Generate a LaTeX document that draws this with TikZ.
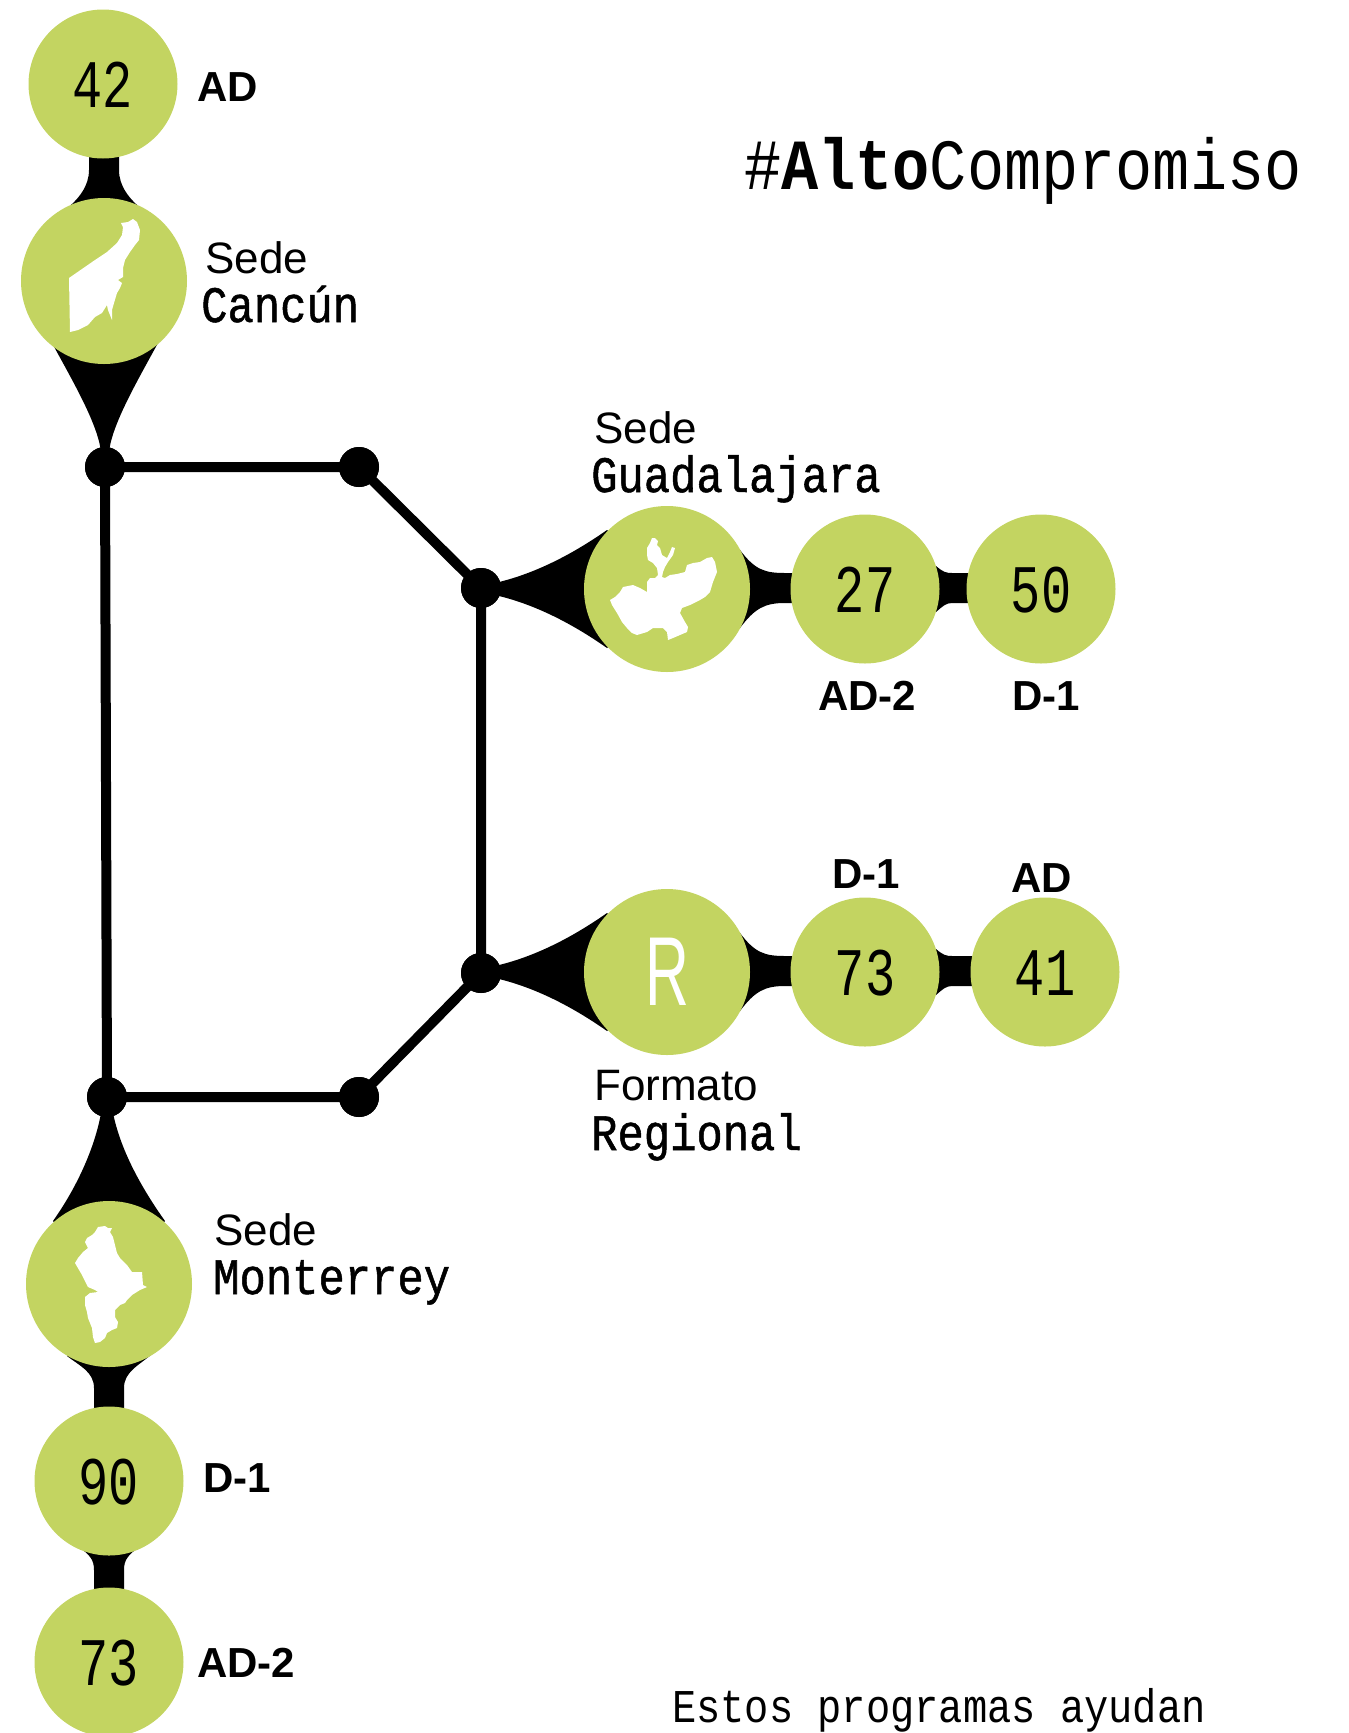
\documentclass[tikz,border=0pt]{standalone}
\usepackage{fontspec}
\setmainfont{Liberation Sans}
\newfontfamily\monof{Liberation Mono}[FakeStretch=0.86]
\newfontface\cityf{Liberation Mono}[FakeStretch=0.86,FakeBold=1]
\newfontfamily\numf{Liberation Mono}[FakeStretch=0.74]
\newfontfamily\rfont{Liberation Sans}[FakeStretch=0.62]
\definecolor{lime}{RGB}{195,212,97}
\begin{document}
\begin{tikzpicture}[x=1pt,y=-1pt,
  bubble/.style={circle,fill=lime,draw=none,inner sep=0},
  bigbub/.style={bubble,minimum size=166pt},
  smallbub/.style={bubble,minimum size=149pt},
  junction/.style={circle,fill=black,draw=none,inner sep=0,minimum size=40pt},
  track/.style={line width=10pt},
  blob/.style={fill=black},
  num/.style={font=\numf\fontsize{68}{68}\selectfont,anchor=base,inner sep=0},
  tag/.style={font=\bfseries\fontsize{42}{42}\selectfont,anchor=base west,inner sep=0},
  lighttxt/.style={font=\fontsize{44}{44}\selectfont,anchor=base west,inner sep=0},
  city/.style={font=\cityf\fontsize{51}{51}\selectfont,anchor=base west,inner sep=0},
  mapfill/.style={fill=white,draw=none}
]
\useasboundingbox (0,0) rectangle (1349,1733);

% ---- black blobs (drawn under the circles)
% Cancun -> 42
\fill[blob] (89,150) -- (89,170) .. controls (89,186) and (79,199) .. (65,210) -- (104,281) -- (143,210) .. controls (129,199) and (119,186) .. (119,170) -- (119,150) -- cycle;
% Cancun -> junction
\fill[blob] (52,343) .. controls (75,385) and (98,425) .. (101,452) -- (109,452) .. controls (112,425) and (135,385) .. (158,343) -- (104,281) -- cycle;
% junction -> Monterrey
\fill[blob] (103,1100) .. controls (98,1145) and (75,1190) .. (53,1221) -- (109,1284) -- (165,1221) .. controls (143,1190) and (116,1145) .. (111,1100) -- cycle;
% Monterrey -> 90
\fill[blob] (67,1356) .. controls (80,1366) and (94,1372) .. (94,1388) -- (94,1420) -- (124,1420) -- (124,1388) .. controls (124,1372) and (138,1366) .. (152,1354) -- (109,1284) -- cycle;
% 90 -> 73
\fill[blob] (83,1550) .. controls (90,1556) and (94,1560) .. (94,1570) -- (94,1600) -- (124,1600) -- (124,1570) .. controls (124,1560) and (128,1556) .. (135,1550) -- (109,1481) -- cycle;
% junction -> Guadalajara
\fill[blob] (490,584) .. controls (530,576) and (570,556) .. (607,530) -- (667,589) -- (607,648) .. controls (570,622) and (530,602) .. (490,594) -- cycle;
% Guadalajara -> 27
\fill[blob] (740,550) .. controls (755,570) and (765,573) .. (785,573) -- (800,573) -- (800,603) -- (785,603) .. controls (765,603) and (755,608) .. (740,628) -- (667,589) -- cycle;
% 27 -> 50
\fill[blob] (936,566) .. controls (943,572) and (946,573) .. (952,573) -- (975,573) -- (975,603) -- (952,603) .. controls (946,603) and (943,606) .. (936,612) -- (865,589) -- cycle;
% junction -> R
\fill[blob] (490,967) .. controls (530,959) and (570,939) .. (607,913) -- (667,972) -- (607,1031) .. controls (570,1005) and (530,985) .. (490,977) -- cycle;
% R -> 73
\fill[blob] (740,933) .. controls (755,953) and (765,956) .. (785,956) -- (800,956) -- (800,986) -- (785,986) .. controls (765,986) and (755,991) .. (740,1011) -- (667,972) -- cycle;
% 73 -> 41
\fill[blob] (936,949) .. controls (943,955) and (946,956) .. (952,956) -- (979,956) -- (979,986) -- (952,986) .. controls (946,986) and (943,989) .. (936,995) -- (865,972) -- cycle;

% ---- junctions and track
\node[junction] (j1) at (105,467) {};
\node[junction] (j2) at (359,467) {};
\node[junction] (j3) at (481,588) {};
\node[junction] (j4) at (481,973) {};
\node[junction] (j5) at (359,1097) {};
\node[junction] (j6) at (107,1097) {};
\draw[track] (j1.center) -- (j2.center) -- (j3.center) -- (j4.center) -- (j5.center) -- (j6.center) -- (j1.center);
\node[junction] at (j1) {};
\node[junction] at (j2) {};
\node[junction] at (j3) {};
\node[junction] at (j4) {};
\node[junction] at (j5) {};
\node[junction] at (j6) {};

% ---- circles
\node[smallbub] (c42) at (103,84) {};
\node[bigbub] (can) at (104,281) {};
\node[bigbub] (gua) at (667,589) {};
\node[smallbub] (c27) at (865,589) {};
\node[smallbub] (c50) at (1041,589) {};
\node[bigbub] (reg) at (667,972) {};
\node[smallbub] (c73r) at (865,972) {};
\node[smallbub] (c41) at (1045,972) {};
\node[bigbub] (mon) at (109,1284) {};
\node[smallbub] (c90) at (109,1481) {};
\node[smallbub] (c73) at (109,1662) {};

% ---- maps
% Quintana Roo
\fill[mapfill] (69,278) -- (95,260) -- (107,252) -- (117,243) -- (122,235) -- (123,227) -- (121,223) -- (128,222) -- (133,219) -- (137,222) -- (140,230) -- (139,240) -- (135,245) -- (130,252) -- (125,260) -- (123,268) -- (123,277) -- (118,280) -- (122,283) -- (120,288) -- (117,293) -- (114,303) -- (112,310) -- (112,320) -- (108,310) -- (107,305) -- (102,313) -- (95,317) -- (88,325) -- (78,330) -- (70,332) -- cycle;
% Jalisco
\fill[mapfill] (652,538) -- (655,538) -- (658,541) -- (657,545) -- (660,548) -- (662,555) -- (667,558) -- (670,552) -- (672,547) -- (675,548) -- (673,555) -- (668,562) -- (665,567) -- (663,572) -- (662,577) -- (665,578) -- (670,575) -- (677,574) -- (685,572) -- (687,565) -- (693,563) -- (700,562) -- (707,558) -- (712,557) -- (715,562) -- (717,572) -- (713,582) -- (710,592) -- (705,597) -- (700,600) -- (690,605) -- (682,608) -- (680,613) -- (685,622) -- (688,627) -- (687,632) -- (680,635) -- (673,638) -- (668,640) -- (667,632) -- (663,628) -- (653,628) -- (647,632) -- (637,635) -- (632,633) -- (627,628) -- (622,622) -- (617,613) -- (612,605) -- (610,600) -- (615,597) -- (620,592) -- (623,587) -- (633,585) -- (640,588) -- (647,592) -- (647,582) -- (650,578) -- (655,578) -- (658,575) -- (657,568) -- (653,563) -- (648,560) -- (647,555) -- (647,548) -- (650,543) -- cycle;
% Nuevo Leon
\fill[mapfill] (98,1227) -- (105,1226) -- (108,1228) -- (112,1228) -- (110,1232) -- (113,1237) -- (115,1245) -- (117,1253) -- (120,1258) -- (127,1265) -- (132,1272) -- (142,1272) -- (143,1285) -- (147,1287) -- (140,1290) -- (132,1295) -- (127,1300) -- (125,1303) -- (120,1305) -- (115,1310) -- (115,1317) -- (118,1322) -- (117,1328) -- (112,1330) -- (107,1333) -- (105,1338) -- (100,1342) -- (95,1343) -- (93,1337) -- (92,1328) -- (88,1318) -- (87,1312) -- (85,1305) -- (85,1297) -- (90,1293) -- (98,1292) -- (95,1290) -- (88,1287) -- (82,1275) -- (75,1263) -- (78,1258) -- (83,1252) -- (88,1248) -- (85,1242) -- (87,1238) -- (92,1235) -- (95,1232) -- cycle;
\node[anchor=base,inner sep=0,text=white,font=\rfont\fontsize{98}{98}\selectfont] (rl) at (667,1005) {R};

% ---- numbers
\node[num] (n42) at (103,107) {42};
\node[num] (n27) at (865,612) {27};
\node[num] (n50) at (1041,612) {50};
\node[num] (n73r) at (865,995) {73};
\node[num] (n41) at (1045,995) {41};
\node[num] (n90) at (109,1504) {90};
\node[num] (n73) at (109,1685) {73};

% ---- labels
\node[tag] (l42) at (197,101) {AD};
\node[lighttxt] (s1) at (205,273) {Sede};
\node[city] (t1) at (201,322) {Cancún};
\node[lighttxt] (s2) at (594,443) {Sede};
\node[city] (t2) at (591,492) {Guadalajara};
\node[tag] (l27) at (818,710) {AD-2};
\node[tag] (l50) at (1012,710) {D-1};
\node[tag] (l73r) at (832,888) {D-1};
\node[tag] (l41) at (1011,892) {AD};
\node[lighttxt] (s3) at (594,1100) {Formato};
\node[city] (t3) at (591,1150) {Regional};
\node[lighttxt] (s4) at (214,1245) {Sede};
\node[city] (t4) at (213,1294) {Monterrey};
\node[tag] (l90) at (203,1492) {D-1};
\node[tag] (l73) at (197,1677) {AD-2};

\node[anchor=base west,inner sep=0,font=\monof\fontsize{72}{72}\selectfont] (hash) at (744,189) {\#\textbf{Alto}Compromiso};
\node[anchor=base west,inner sep=0,font=\monof\fontsize{47}{47}\selectfont] (foot) at (672,1722) {Estos programas ayudan};
\end{tikzpicture}
\end{document}
